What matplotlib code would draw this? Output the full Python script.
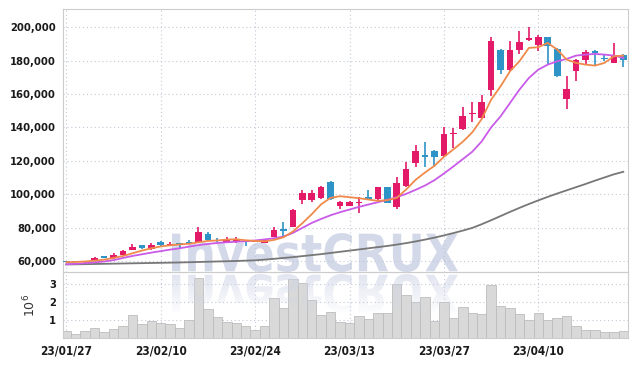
import numpy as np
import matplotlib
matplotlib.use("Agg")
import matplotlib.pyplot as plt
from matplotlib.ticker import FuncFormatter, FixedLocator
from matplotlib.textpath import TextPath
from matplotlib.patches import PathPatch
from matplotlib.font_manager import FontProperties
from matplotlib.transforms import Affine2D

# daily candles (KRW)
opens = [60000, 59800, 59400, 60200, 63000, 61600, 63600, 66800, 69600, 67000,
         71600, 69200, 70800, 71000, 71600, 76400, 72400, 70800, 71600, 72000,
         71400, 70800, 74600, 79000, 80600, 96600, 96600, 97600, 107000, 93200,
         93000, 94800, 98400, 97000, 104200, 92200, 105000, 118600, 123400, 126000,
         122600, 136000, 139000, 147800, 145600, 162200, 186600, 174200, 186200, 192200,
         189200, 194200, 187200, 157000, 173600, 180600, 185400, 181400, 178600, 183600]
closes = [59400, 59400, 59900, 62000, 61800, 63800, 66200, 68600, 67600, 69600,
          69600, 70400, 70000, 70400, 77600, 72600, 71800, 73400, 72200, 71400,
          72000, 72600, 78600, 78000, 90600, 100600, 101000, 104600, 97000, 95600,
          95600, 95400, 97400, 104200, 95000, 106600, 115000, 125600, 122000, 122000,
          136200, 136600, 147000, 148400, 155200, 192000, 174200, 186600, 191000, 193800,
          194200, 188600, 170600, 163000, 180600, 185200, 184800, 181000, 183600, 180600]
highs = [60200, 59900, 60000, 62200, 63200, 64800, 66400, 70400, 69800, 70600,
         71800, 71600, 71000, 72600, 80400, 77600, 73800, 74600, 74600, 72200,
         72200, 73000, 80400, 83400, 91000, 102400, 102400, 105000, 107600, 96000,
         96000, 98600, 102600, 104600, 104600, 110000, 119400, 129200, 131000, 126400,
         140400, 139600, 152000, 155400, 159600, 194200, 187000, 191600, 197800, 200400,
         195400, 194400, 187600, 170600, 181000, 186400, 186200, 183400, 190400, 184000]
lows = [59200, 59200, 57800, 60000, 61600, 61400, 63400, 66600, 67000, 66800,
        69000, 69000, 67600, 70200, 71400, 72200, 71400, 70600, 70800, 69200,
        71200, 70600, 74400, 74600, 80400, 94400, 95400, 97400, 96600, 91000,
        92800, 88600, 96400, 96000, 94800, 91000, 104600, 116000, 116000, 116000,
        122200, 127600, 138600, 143000, 145000, 158600, 171800, 174000, 184000, 192000,
        185600, 178000, 170200, 151000, 168000, 177600, 177600, 179600, 178400, 176000]
volume = [390000, 200000, 370000, 540000, 330000, 480000, 650000, 1260000, 780000, 920000,
          830000, 780000, 540000, 990000, 3320000, 1590000, 1150000, 870000, 810000, 650000,
          430000, 660000, 2200000, 1650000, 3260000, 3040000, 2100000, 1280000, 1430000, 880000,
          820000, 1250000, 1050000, 1370000, 1380000, 3000000, 2380000, 2000000, 2260000, 940000,
          1990000, 1090000, 1700000, 1370000, 1330000, 2930000, 1780000, 1650000, 1330000, 1000000,
          1370000, 1000000, 1090000, 1200000, 650000, 440000, 440000, 320000, 320000, 390000]

# moving averages
ma5 = [59300, 59400, 59700, 60200, 60800, 61800, 63000, 64600, 66200, 67600,
       68700, 69400, 69900, 70300, 71200, 72000, 72300, 72800, 73000, 72400,
       72000, 71800, 72600, 74200, 77600, 82600, 88000, 94000, 97800, 98800,
       98200, 97600, 96800, 96000, 96400, 97800, 102800, 108600, 113000, 117000,
       122400, 126800, 131400, 137000, 145000, 156600, 164600, 173600, 179600, 187600,
       188000, 190600, 186600, 180600, 178600, 177600, 177000, 178600, 182600, 183000]
ma20 = [58000, 58300, 58700, 59200, 59700, 60500, 61800, 63000, 64000, 65000,
        65900, 66800, 67600, 68600, 69500, 70200, 70800, 71200, 71500, 71800,
        72300, 72900, 73600, 74600, 76800, 79800, 82800, 85200, 87400, 89200,
        90800, 92400, 93800, 95200, 96600, 98200, 100200, 102600, 105200, 108400,
        112400, 116600, 121000, 125400, 131600, 140000, 146600, 154600, 162600, 169600,
        174600, 177600, 179600, 181000, 183000, 183600, 184000, 183600, 183000, 181600]
ma60 = [57900, 58000, 58100, 58200, 58300, 58400, 58500, 58600, 58700, 58800,
        58900, 59000, 59100, 59250, 59400, 59550, 59700, 59850, 60000, 60200,
        60400, 60800, 61300, 61800, 62300, 62900, 63500, 64100, 64800, 65500,
        66200, 66900, 67600, 68300, 69000, 69800, 70700, 71700, 72800, 74000,
        75300, 76700, 78200, 79800, 82000, 84400, 86900, 89400, 91800, 94100,
        96300, 98400, 100400, 102300, 104200, 106100, 108100, 110000, 111900, 113400]

date_ticks = [0, 10, 20, 30, 40, 50]
date_labels = ["23/01/27", "23/02/10", "23/02/24", "23/03/13", "23/03/27", "23/04/10"]
price_ticks = [60000, 80000, 100000, 120000, 140000, 160000, 180000, 200000]
vol_ticks = [1e6, 2e6, 3e6]

UP = "#E31A67"
DOWN = "#2E93C6"
GRID = "#C3C8D8"
SPINE = "#CCCCCC"
WM = (0.81, 0.835, 0.905)

plt.rcParams["font.family"] = ["DejaVu Sans"]
tick_font = dict(family=["DejaVu Sans"], size=8, weight="bold", stretch="condensed")

fig = plt.figure(figsize=(6.36, 3.66), dpi=100)
W, H = 636.0, 366.0
ax_v = fig.add_axes([63 / W, 1 - 338 / H, 565 / W, 66 / H], zorder=0)
ax_wm = fig.add_axes([0, 0, 1, 1], zorder=1)
ax = fig.add_axes([63 / W, 1 - 272 / H, 565 / W, 263 / H], zorder=2, sharex=ax_v)
ax.patch.set_alpha(0)

x = np.arange(len(opens))
o = np.array(opens); c = np.array(closes)
h = np.array(highs); l = np.array(lows)
cols = [UP if cc >= oo else DOWN for oo, cc in zip(o, c)]

# wicks + bodies
ax.vlines(x, l, h, colors=cols, linewidth=1.2, zorder=3)
body = np.maximum(np.abs(c - o), 700)
ax.bar(x, body, bottom=np.minimum(o, c), width=0.7, color=cols, zorder=4)

ax.plot(x, ma60, color="#777777", lw=1.3, zorder=5)
ax.plot(x, ma20, color="#C95BE8", lw=1.3, zorder=5)
ax.plot(x, ma5, color="#F08A4B", lw=1.3, zorder=6)

ax_v.bar(x, volume, width=1.0, color="#D9D9D9", edgecolor="#BDBDBD", linewidth=0.6, zorder=2)

ax_v.set_xlim(-0.35, 59.5)
ax.set_ylim(53400, 210900)
ax_v.set_ylim(0, 3.67e6)

ax.yaxis.set_major_locator(FixedLocator(price_ticks))
ax.yaxis.set_major_formatter(FuncFormatter(lambda v, p: f"{int(v):,}"))
ax_v.yaxis.set_major_locator(FixedLocator(vol_ticks))
ax_v.yaxis.set_major_formatter(FuncFormatter(lambda v, p: f"{v / 1e6:.0f}"))
ax_v.set_xticks(date_ticks)
ax_v.set_xticklabels(date_labels)
ax_v.set_ylabel(r"$10^6$", fontsize=9, color="#333333", labelpad=8)

for a in (ax, ax_v):
    a.grid(True, linestyle=(0, (1, 2.5)), color=GRID, linewidth=0.8)
    a.set_axisbelow(True)
    a.tick_params(length=0, pad=5, labelcolor="#1a1a1a")
    for s in a.spines.values():
        s.set_color(SPINE)
        s.set_linewidth(0.8)
    for t in a.get_yticklabels() + a.get_xticklabels():
        t.set_fontproperties(FontProperties(**tick_font))
ax.tick_params(axis="x", labelbottom=False)
for t in ax_v.get_xticklabels():
    t.set_fontsize(8.5)

# watermark with reflection
ax_wm.set_xlim(0, W)
ax_wm.set_ylim(0, H)
ax_wm.axis("off")
ax_wm.patch.set_alpha(0)
tp = TextPath((0, 0), "InvestCRUX", size=1, prop=FontProperties(family="DejaVu Sans", weight="bold"))
bb = tp.get_extents()
sx = 286 / bb.width
sy = 39 / bb.height
base = H - 272
main_tr = Affine2D().translate(-bb.x0, -bb.y0).scale(sx, sy).translate(172, base) + ax_wm.transData
ax_wm.add_patch(PathPatch(tp, transform=main_tr, facecolor=WM, edgecolor="none", alpha=0.9))
refl_tr = Affine2D().translate(-bb.x0, -bb.y0).scale(sx, -sy).translate(172, base - 2) + ax_wm.transData
refl = PathPatch(tp, transform=refl_tr, facecolor="none", edgecolor="none")
ax_wm.add_patch(refl)
grad = np.zeros((60, 1, 4))
grad[..., 0], grad[..., 1], grad[..., 2] = WM
grad[:, 0, 3] = np.linspace(0.6, 0.0, 60)
im = ax_wm.imshow(grad, extent=[165, 465, base - 44, base - 2], aspect="auto", origin="upper")
im.set_clip_path(refl)

fig.savefig("out.png", dpi=100)
